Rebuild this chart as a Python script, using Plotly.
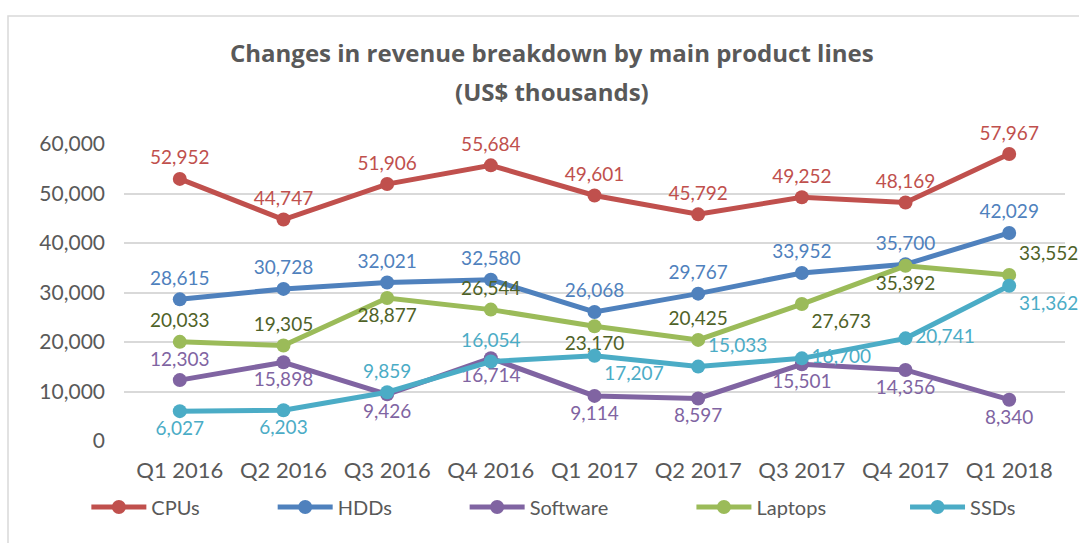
import plotly.graph_objects as go

# quarters on the x axis
quarters = ["Q1 2016", "Q2 2016", "Q3 2016", "Q4 2016", "Q1 2017",
            "Q2 2017", "Q3 2017", "Q4 2017", "Q1 2018"]

# revenue by product line (US$ thousands)
cpus = [52952, 44747, 51906, 55684, 49601, 45792, 49252, 48169, 57967]
hdds = [28615, 30728, 32021, 32580, 26068, 29767, 33952, 35700, 42029]
software = [12303, 15898, 9426, 16714, 9114, 8597, 15501, 14356, 8340]
laptops = [20033, 19305, 28877, 26544, 23170, 20425, 27673, 35392, 33552]
ssds = [6027, 6203, 9859, 16054, 17207, 15033, 16700, 20741, 31362]

y_ticks = [0, 10000, 20000, 30000, 40000, 50000, 60000]

# styling per series: name, values, line colour, label colour, label positions, legend x
series = [
    ("CPUs", cpus, "#C0504D", "#C0504D",
     ["top center"] * 9, -0.040),
    ("HDDs", hdds, "#4F81BD", "#4F81BD",
     ["top center"] * 9, 0.158),
    ("Software", software, "#8064A2", "#8064A2",
     ["top center"] + ["bottom center"] * 8, 0.362),
    ("Laptops", laptops, "#9BBB59", "#4F6228",
     ["top center", "top center", "bottom center", "top center", "bottom center",
      "top center", "bottom right", "bottom center", "top right"], 0.603),
    ("SSDs", ssds, "#4BACC6", "#4BACC6",
     ["bottom center", "bottom center", "top center", "top center", "bottom right",
      "top right", "middle right", "middle right", "bottom right"], 0.830),
]

FONT = "Lato"
GREY = "#595959"

# plot area in pixels: x 124..1065, y 144..441
def px_x(p):
    return (p - 124) / 941

def px_y(p):
    return (441 - p) / 297

fig = go.Figure()
legend_layout = {}
for i, (name, vals, color, label_color, pos, lx) in enumerate(series):
    key = "legend" if i == 0 else f"legend{i + 1}"
    fig.add_trace(go.Scatter(
        x=quarters, y=vals, name=name, mode="lines+markers+text",
        line=dict(color=color, width=5),
        marker=dict(color=color, size=14),
        text=[f"{v:,}" for v in vals],
        textposition=pos,
        textfont=dict(family=FONT, size=19, color=label_color),
        cliponaxis=False,
        legend=key,
    ))
    legend_layout[key] = dict(
        x=lx, y=px_y(507), xanchor="left", yanchor="middle",
        orientation="h", bgcolor="rgba(0,0,0,0)",
        font=dict(family=FONT, size=20, color=GREY),
        itemwidth=55,
    )

fig.update_layout(
    width=1079, height=543,
    margin=dict(l=124, r=14, t=144, b=102),
    paper_bgcolor="white", plot_bgcolor="white",
    showlegend=True,
    **legend_layout,
)

fig.update_xaxes(
    type="category", showgrid=False, showline=False, zeroline=False,
    tickfont=dict(family=FONT, size=22, color=GREY),
    ticks="", ticklabelstandoff=14,
)
fig.update_yaxes(
    range=[0, 60000], tickvals=y_ticks, tickformat=",",
    showgrid=True, gridcolor="#D9D9D9", gridwidth=1.5,
    zeroline=False, showline=False,
    tickfont=dict(family=FONT, size=21, color=GREY),
    ticks="", ticklabelstandoff=18,
)

# two-line chart title
for txt, row in [("Changes in revenue breakdown by main product lines", 53),
                 ("(US$ thousands)", 92)]:
    fig.add_annotation(
        text=f"<b>{txt}</b>",
        x=px_x(552), y=px_y(row), xref="paper", yref="paper",
        xanchor="center", yanchor="middle", showarrow=False,
        font=dict(family="Open Sans", size=24, color=GREY),
    )

# thin chart border
fig.add_shape(type="rect", xref="paper", yref="paper",
              x0=px_x(8), x1=px_x(1090), y0=px_y(560), y1=px_y(16),
              line=dict(color="#D9D9D9", width=1.5), layer="below")

fig.write_html(
    "out.html",
    config={"displayModeBar": False},
    post_script="document.body.style.margin='0';document.body.style.overflow='hidden';",
)
